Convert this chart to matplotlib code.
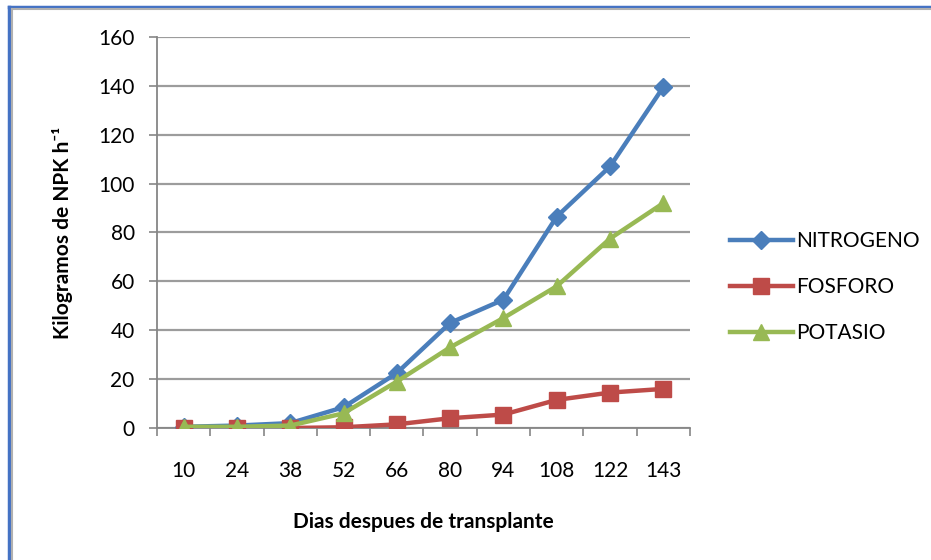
#Nutrient uptake (NPK) curve against days after transplant
import matplotlib.pyplot as plt
from matplotlib.lines import Line2D
import numpy as np

plt.rcParams['font.family'] = ['Lato', 'DejaVu Sans']

#Data
dias = ['10', '24', '38', '52', '66', '80', '94', '108', '122', '143']
nitrogeno = [0.5, 1, 2, 8.5, 22.5, 43, 52.5, 86.5, 107, 139.5]
fosforo = [0, 0, 0, 0.3, 1.5, 4, 5.5, 11.5, 14.5, 16]
potasio = [0.5, 0.5, 1, 6, 19, 33, 45, 58, 77.5, 92]
series_names = ['NITROGENO', 'FOSFORO', 'POTASIO']
yticks = [0, 20, 40, 60, 80, 100, 120, 140, 160]

fig = plt.figure(figsize=(9.31, 5.6), dpi=100)
ax = fig.add_axes([0.1686, 0.2357, 0.5725, 0.6983])

x = np.arange(len(dias))
ax.plot(x, nitrogeno, color='#4a7ebb', lw=3.2, marker='D', ms=9, label=series_names[0], zorder=3)
ax.plot(x, fosforo, color='#be4b48', lw=3.2, marker='s', ms=11, label=series_names[1], zorder=3)
ax.plot(x, potasio, color='#98b954', lw=3.2, marker='^', ms=12, label=series_names[2], zorder=4)

ax.set_xlim(-0.5, len(dias) - 0.5)
ax.set_ylim(0, 160)
ax.set_yticks(yticks)
ax.set_xticks(x)
ax.set_xticklabels(dias)
#tick marks between the categories
ax.set_xticks(np.arange(-0.5, len(dias) + 0.5, 1), minor=True)
ax.tick_params(axis='x', which='major', length=0, pad=24, labelsize=15)
ax.tick_params(axis='x', which='minor', length=6, width=1.2, color='#868686', direction='out')
ax.tick_params(axis='y', length=6, width=1.2, color='#868686', pad=10, labelsize=15)

ax.grid(axis='y', color='#9c9c9c', lw=1.6)
ax.set_axisbelow(True)
for s in ['top', 'right']:
    ax.spines[s].set_visible(False)
for s in ['left', 'bottom']:
    ax.spines[s].set_color('#868686')
    ax.spines[s].set_linewidth(1.3)

ax.set_xlabel('Dias despues de transplante', fontsize=15, fontweight='bold', labelpad=22)
ax.set_ylabel('Kilogramos de NPK h⁻¹', fontsize=15, fontweight='bold', labelpad=18)

leg = ax.legend(loc='center left', bbox_to_anchor=(1.04, 0.36), frameon=False,
                fontsize=15, labelspacing=1.25, handlelength=3.0, handletextpad=0.15)

#blue frame on the left and top edge
fig.add_artist(Line2D([0.0097, 0.0097], [0, 0.988], color='#4472c4', lw=2.5))
fig.add_artist(Line2D([0.0097, 1], [0.988, 0.988], color='#4472c4', lw=2.5))
fig.add_artist(Line2D([0.0125, 0.0125], [0, 0.984], color='#b0b0b0', lw=1.5))
fig.add_artist(Line2D([0.0125, 1], [0.984, 0.984], color='#b0b0b0', lw=1.5))

fig.savefig('out.png', dpi=100)
